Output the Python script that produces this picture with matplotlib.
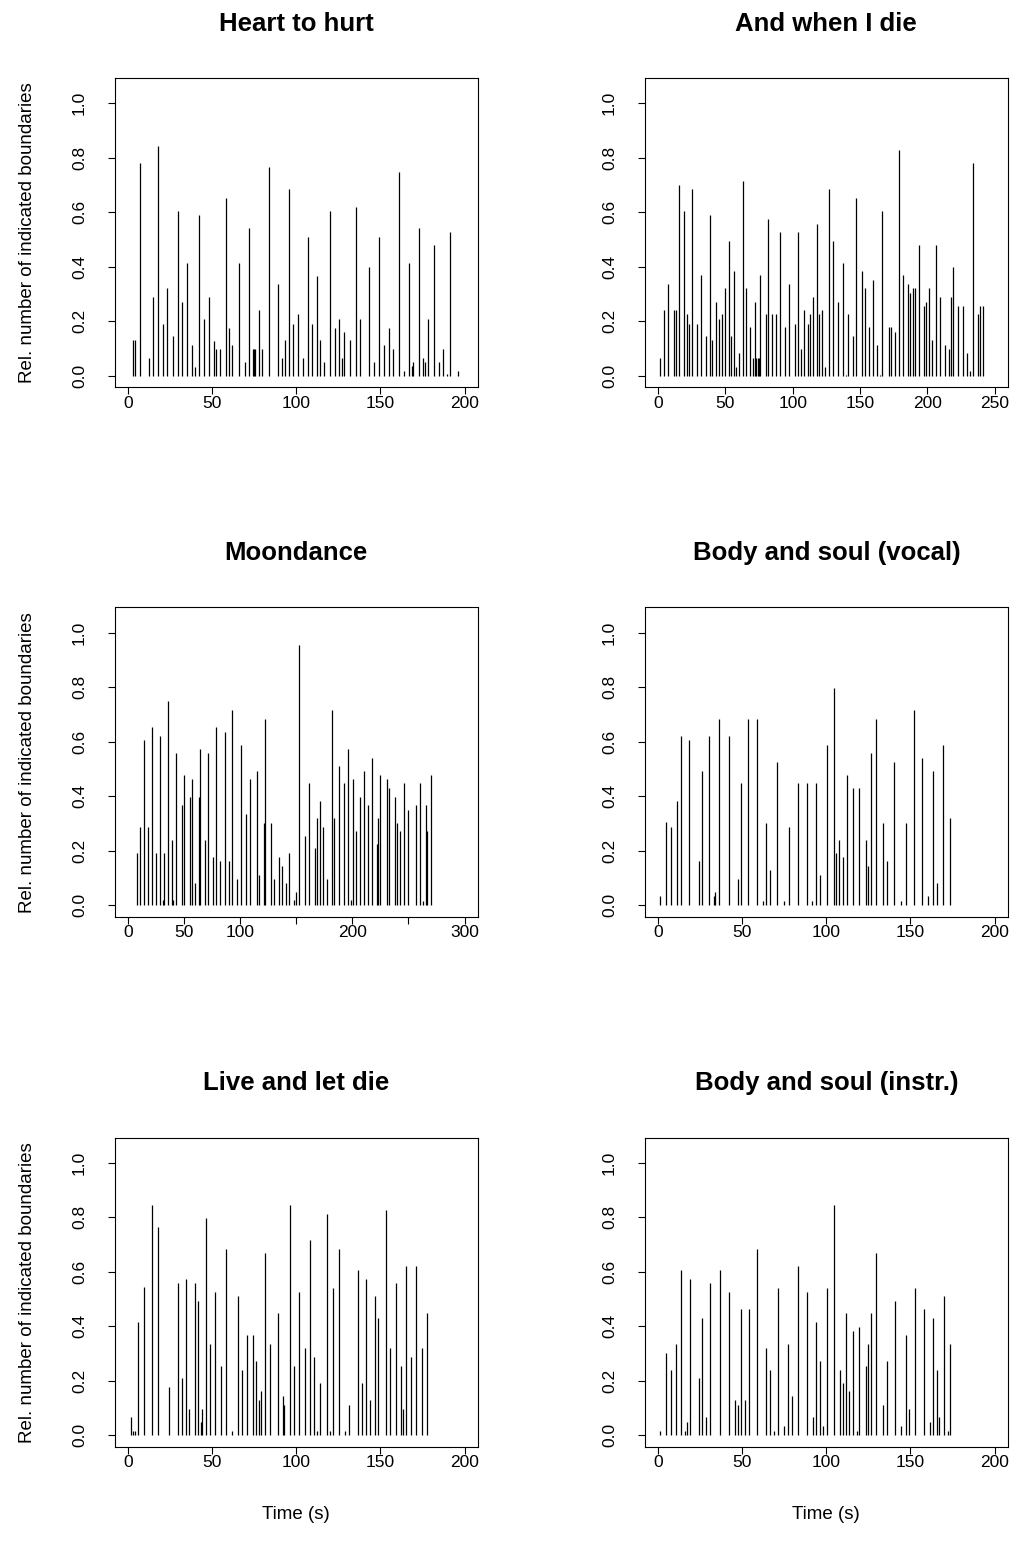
import matplotlib
matplotlib.use("Agg")
import matplotlib.pyplot as plt

plt.rcParams['font.family'] = ['Liberation Sans', 'DejaVu Sans']

# boundary times (s) and relative number of listeners indicating a boundary
heart_t = [2.7, 3.9, 7.0, 12.4, 14.9, 17.7, 20.5, 23.1, 26.5, 29.4, 31.8, 34.8, 37.8, 39.5,
           42.3, 45.2, 48.0, 50.8, 52.4, 54.4, 58.0, 60.0, 61.7, 65.7, 69.4, 71.8, 74.0, 74.8,
           75.6, 77.6, 79.5, 83.7, 88.9, 91.3, 93.4, 95.6, 97.8, 100.8, 103.7, 106.7, 109.3,
           112.4, 114.0, 116.2, 120.0, 122.8, 125.5, 127.3, 128.5, 131.9, 135.3, 137.8, 143.2,
           146.0, 148.9, 152.1, 154.9, 157.3, 161.0, 164.0, 166.8, 168.7, 169.5, 172.7, 175.3,
           176.3, 178.2, 181.8, 184.8, 187.2, 189.4, 191.3, 196.1]
heart_v = [0.13, 0.13, 0.78, 0.066, 0.287, 0.843, 0.19, 0.32, 0.145, 0.605, 0.27, 0.414, 0.112,
           0.033, 0.589, 0.208, 0.287, 0.128, 0.097, 0.097, 0.653, 0.176, 0.112, 0.414, 0.049,
           0.541, 0.097, 0.097, 0.097, 0.241, 0.097, 0.764, 0.336, 0.066, 0.13, 0.685, 0.19,
           0.225, 0.066, 0.51, 0.19, 0.367, 0.13, 0.049, 0.605, 0.176, 0.208, 0.066, 0.161, 0.13,
           0.62, 0.208, 0.4, 0.049, 0.51, 0.112, 0.176, 0.097, 0.748, 0.018, 0.414, 0.035, 0.049,
           0.541, 0.066, 0.049, 0.208, 0.478, 0.049, 0.097, 0.006, 0.526, 0.018]

die_t = [1.3, 4.1, 7.5, 11.5, 13.2, 15.5, 18.9, 21.6, 23.1, 25.1, 28.8, 31.6, 35.5, 38.5, 40.0,
         43.0, 45.2, 47.2, 49.4, 52.6, 54.1, 56.1, 57.8, 60.0, 63.0, 65.2, 68.2, 70.5, 72.2,
         72.7, 73.9, 74.7, 75.7, 80.1, 81.8, 84.6, 87.5, 90.7, 94.2, 97.2, 101.4, 104.1, 105.9,
         108.4, 111.1, 112.8, 114.8, 117.8, 119.7, 121.5, 124.0, 126.9, 129.9, 133.4, 137.1,
         139.6, 141.1, 144.8, 147.2, 151.3, 153.5, 156.7, 159.6, 162.8, 164.8, 166.6, 171.3,
         173.0, 175.8, 179.0, 182.0, 185.4, 187.1, 189.1, 191.1, 193.6, 197.3, 199.0, 201.2,
         203.3, 206.2, 209.7, 212.9, 215.9, 217.6, 219.3, 223.0, 226.3, 229.5, 232.0, 233.7,
         237.4, 239.2, 241.2]
die_v = [0.066, 0.241, 0.336, 0.241, 0.241, 0.70, 0.605, 0.225, 0.19, 0.685, 0.19, 0.368, 0.145,
         0.588, 0.13, 0.271, 0.208, 0.225, 0.32, 0.494, 0.145, 0.383, 0.033, 0.082, 0.715, 0.32,
         0.177, 0.066, 0.271, 0.066, 0.066, 0.066, 0.368, 0.225, 0.573, 0.225, 0.225, 0.526,
         0.177, 0.336, 0.19, 0.526, 0.097, 0.241, 0.19, 0.225, 0.287, 0.557, 0.225, 0.241,
         0.033, 0.685, 0.494, 0.271, 0.414, 0.004, 0.225, 0.145, 0.653, 0.383, 0.32, 0.177,
         0.351, 0.112, 0.004, 0.605, 0.177, 0.177, 0.161, 0.828, 0.368, 0.336, 0.304, 0.32,
         0.32, 0.478, 0.255, 0.271, 0.32, 0.13, 0.478, 0.287, 0.112, 0.097, 0.287, 0.4, 0.255,
         0.255, 0.082, 0.018, 0.781, 0.225, 0.255, 0.255]

moon_t = [7.6, 10.3, 13.8, 17.7, 21.2, 24.8, 28.1, 30.8, 31.7, 35.5, 39.4, 40.3, 42.6, 47.7,
          49.8, 55.1, 56.9, 59.3, 62.9, 64.3, 68.2, 71.5, 75.4, 78.3, 82.1, 86.1, 89.6, 92.8,
          96.8, 100.3, 105.3, 108.4, 114.9, 116.9, 120.8, 122.0, 127.4, 130.0, 134.2, 137.2,
          140.7, 143.7, 147.6, 149.4, 152.3, 157.7, 161.5, 166.3, 168.6, 171.1, 173.5, 177.6,
          181.5, 183.8, 188.0, 192.5, 196.3, 198.4, 200.2, 203.2, 206.5, 210.6, 214.1, 217.4,
          221.6, 222.8, 224.8, 230.5, 232.3, 237.7, 239.5, 242.7, 245.7, 249.3, 256.4, 260.2,
          262.9, 265.3, 266.5, 269.8]
moon_v = [0.193, 0.289, 0.606, 0.289, 0.653, 0.193, 0.621, 0.02, 0.193, 0.749, 0.24, 0.02,
          0.557, 0.368, 0.478, 0.399, 0.462, 0.081, 0.399, 0.573, 0.24, 0.557, 0.176, 0.653,
          0.161, 0.637, 0.161, 0.716, 0.098, 0.589, 0.335, 0.462, 0.494, 0.112, 0.303, 0.685,
          0.303, 0.098, 0.176, 0.144, 0.081, 0.193, 0.02, 0.049, 0.955, 0.255, 0.447, 0.209,
          0.319, 0.383, 0.287, 0.098, 0.716, 0.319, 0.511, 0.447, 0.573, 0.02, 0.462, 0.271,
          0.399, 0.494, 0.368, 0.542, 0.224, 0.319, 0.478, 0.462, 0.43, 0.399, 0.303, 0.271,
          0.447, 0.351, 0.368, 0.447, 0.017, 0.368, 0.271, 0.478]

soulv_t = [1.1, 4.5, 7.4, 11.0, 13.7, 18.5, 24.1, 26.0, 30.4, 33.4, 33.9, 36.1, 41.9, 47.3,
           49.2, 53.4, 58.9, 62.5, 64.1, 66.3, 70.8, 74.6, 77.6, 82.9, 88.3, 91.4, 93.8, 96.0,
           100.2, 104.3, 105.9, 107.5, 109.9, 112.1, 115.6, 119.6, 123.4, 124.6, 126.5, 129.3,
           133.7, 136.0, 140.0, 144.3, 147.3, 151.9, 156.7, 160.6, 163.2, 165.6, 169.5, 173.5]
soulv_v = [0.034, 0.304, 0.289, 0.383, 0.621, 0.605, 0.161, 0.494, 0.621, 0.034, 0.049, 0.685,
           0.621, 0.098, 0.447, 0.685, 0.685, 0.017, 0.303, 0.13, 0.526, 0.017, 0.287, 0.447,
           0.447, 0.017, 0.447, 0.112, 0.589, 0.796, 0.193, 0.24, 0.176, 0.478, 0.43, 0.43,
           0.24, 0.144, 0.557, 0.685, 0.303, 0.161, 0.526, 0.017, 0.303, 0.716, 0.542, 0.034,
           0.494, 0.081, 0.589, 0.319]

live_t = [1.7, 3.0, 3.9, 5.6, 9.4, 14.3, 17.9, 24.1, 29.4, 31.8, 34.2, 36.0, 39.5, 41.5, 43.1,
          43.7, 46.3, 48.5, 51.6, 55.0, 58.1, 61.7, 65.1, 67.7, 70.6, 74.0, 76.2, 78.0, 79.1,
          81.3, 84.1, 89.1, 92.0, 92.6, 96.2, 98.6, 101.5, 104.9, 107.9, 110.3, 112.1, 113.9,
          118.0, 120.0, 121.6, 125.5, 128.9, 131.5, 136.4, 139.0, 141.4, 143.8, 146.6, 148.7,
          153.5, 155.8, 159.0, 162.2, 163.6, 165.2, 168.1, 171.1, 174.7, 177.6]
live_v = [0.066, 0.017, 0.017, 0.414, 0.543, 0.845, 0.765, 0.176, 0.557, 0.209, 0.573, 0.098,
          0.557, 0.494, 0.049, 0.098, 0.796, 0.335, 0.526, 0.255, 0.685, 0.017, 0.511, 0.24,
          0.368, 0.368, 0.271, 0.13, 0.161, 0.669, 0.335, 0.447, 0.144, 0.112, 0.845, 0.255,
          0.526, 0.319, 0.716, 0.287, 0.017, 0.193, 0.812, 0.017, 0.542, 0.685, 0.017, 0.112,
          0.605, 0.193, 0.573, 0.13, 0.511, 0.43, 0.828, 0.319, 0.557, 0.255, 0.098, 0.621,
          0.287, 0.621, 0.319, 0.447]

souli_t = [1.1, 4.5, 7.4, 10.6, 13.7, 15.8, 16.9, 18.9, 24.1, 26.0, 28.2, 30.8, 36.6, 42.1,
           45.7, 47.4, 49.4, 51.8, 54.0, 58.9, 64.1, 66.3, 68.7, 71.0, 74.6, 77.4, 79.7, 83.1,
           88.5, 91.9, 93.8, 96.0, 98.2, 100.4, 104.3, 108.1, 109.9, 111.7, 113.4, 115.8, 118.0,
           119.4, 123.5, 124.7, 126.5, 129.3, 133.5, 136.0, 140.6, 144.2, 147.3, 149.3, 152.7,
           158.0, 161.4, 163.6, 165.6, 167.1, 169.9, 172.1, 173.5]
souli_v = [0.017, 0.303, 0.24, 0.335, 0.605, 0.017, 0.049, 0.573, 0.209, 0.43, 0.066, 0.557,
           0.605, 0.526, 0.13, 0.112, 0.462, 0.13, 0.462, 0.685, 0.319, 0.24, 0.017, 0.542,
           0.034, 0.335, 0.144, 0.621, 0.526, 0.066, 0.414, 0.271, 0.034, 0.542, 0.845, 0.24,
           0.193, 0.447, 0.161, 0.383, 0.017, 0.399, 0.255, 0.335, 0.447, 0.669, 0.112, 0.271,
           0.494, 0.034, 0.368, 0.098, 0.542, 0.462, 0.049, 0.43, 0.24, 0.066, 0.511, 0.017,
           0.335]

titles = ["Heart to hurt", "And when I die", "Moondance", "Body and soul (vocal)",
          "Live and let die", "Body and soul (instr.)"]
series = [(heart_t, heart_v), (die_t, die_v), (moon_t, moon_v),
          (soulv_t, soulv_v), (live_t, live_v), (souli_t, souli_v)]
x_max = [200, 250, 300, 200, 200, 200]
x_ticks = [[0, 50, 100, 150, 200],
           [0, 50, 100, 150, 200, 250],
           [0, 50, 100, 150, 200, 250, 300],
           [0, 50, 100, 150, 200],
           [0, 50, 100, 150, 200],
           [0, 50, 100, 150, 200]]
y_ticks = [0.0, 0.2, 0.4, 0.6, 0.8, 1.0]

W, H = 1016, 1554
fig = plt.figure(figsize=(W / 100, H / 100), dpi=100)

col_left = [114.7, 644.7]
row_top = [77.9, 607.5, 1137.5]
pw, ph = 363.3, 309.3

for i, (title, (t, v)) in enumerate(zip(titles, series)):
    r, c = divmod(i, 2)
    l, top = col_left[c], row_top[r]
    ax = fig.add_axes([l / W, 1 - (top + ph) / H, pw / W, ph / H])
    ax.vlines(t, 0, v, color='black', lw=0.9)

    xm = x_max[i]
    ax.set_xlim(-0.04 * xm, 1.04 * xm)
    ax.set_ylim(-0.042, 1.092)
    ax.set_xticks(x_ticks[i])
    labels = [str(k) for k in x_ticks[i]]
    if xm == 300:
        # 150 and 250 keep their ticks but have no label
        labels = [s if s not in ("150", "250") else "" for s in labels]
    ax.set_xticklabels(labels)
    ax.set_yticks(y_ticks)
    ax.set_yticklabels(["%.1f" % y for y in y_ticks], rotation=90, va='center')

    ax.tick_params(direction='out', length=5, width=0.8, labelsize=12.5)
    ax.tick_params(axis='x', pad=1)
    ax.tick_params(axis='y', pad=15)
    for s in ax.spines.values():
        s.set_linewidth(0.8)

    ax.set_title(title, fontsize=18.5, fontweight='bold', pad=34)
    if c == 0:
        ax.set_ylabel("Rel. number of indicated boundaries", fontsize=13.5, labelpad=26)
    if r == 2:
        ax.set_xlabel("Time (s)", fontsize=13.5, labelpad=26)

fig.savefig("out.png", dpi=100)
